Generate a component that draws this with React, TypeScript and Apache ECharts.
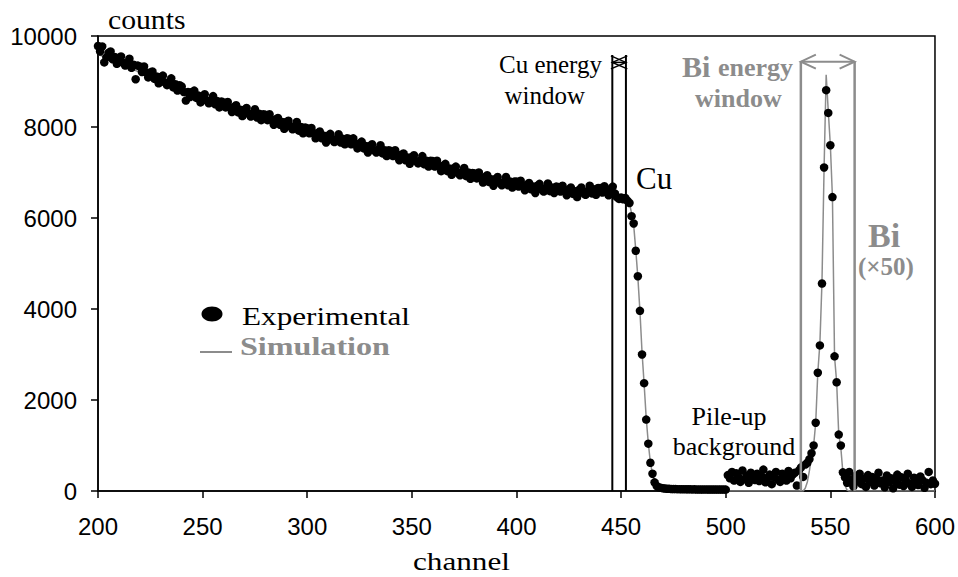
import React, { useEffect, useRef } from 'react';
import * as echarts from 'echarts';

// ---------- data ----------
const channelStart = 200;
const experimental: number[] = [
  9780, 9660, 9770, 9420, 9530, 9630, 9660, 9490, 9540, 9390,
  9520, 9550, 9410, 9350, 9410, 9500, 9300, 9370, 9050, 9350,
  9330, 9210, 9330, 9200, 9090, 9200, 9220, 9060, 9110, 8960,
  9100, 9130, 8980, 8920, 8980, 9070, 8870, 8940, 8800, 8920,
  8890, 8770, 8580, 8770, 8660, 8770, 8800, 8640, 8690, 8540,
  8680, 8720, 8580, 8520, 8590, 8680, 8500, 8570, 8430, 8560,
  8540, 8430, 8550, 8430, 8330, 8440, 8480, 8320, 8380, 8240,
  8380, 8420, 8290, 8230, 8300, 8390, 8210, 8290, 8150, 8280,
  8270, 8150, 8280, 8150, 8050, 8170, 8200, 8050, 8110, 7960,
  8110, 8140, 8010, 7950, 8020, 8110, 7920, 8000, 7860, 7990,
  7970, 7860, 7980, 7860, 7750, 7870, 7900, 7750, 7810, 7660,
  7810, 7850, 7720, 7670, 7740, 7840, 7660, 7740, 7620, 7750,
  7740, 7620, 7750, 7630, 7530, 7640, 7680, 7530, 7580, 7440,
  7590, 7620, 7490, 7440, 7500, 7600, 7420, 7490, 7360, 7490,
  7470, 7360, 7490, 7370, 7270, 7390, 7420, 7270, 7330, 7190,
  7340, 7380, 7250, 7200, 7260, 7360, 7180, 7260, 7130, 7260,
  7250, 7130, 7260, 7140, 7030, 7150, 7190, 7030, 7090, 6950,
  7090, 7130, 6990, 6940, 7010, 7100, 6920, 7000, 6860, 6990,
  6980, 6870, 7000, 6880, 6780, 6900, 6940, 6790, 6850, 6710,
  6860, 6900, 6770, 6720, 6790, 6900, 6720, 6800, 6670, 6800,
  6800, 6690, 6820, 6700, 6610, 6730, 6770, 6630, 6690, 6550,
  6710, 6750, 6630, 6580, 6660, 6760, 6590, 6670, 6550, 6690,
  6680, 6580, 6710, 6600, 6500, 6630, 6670, 6530, 6590, 6460,
  6620, 6670, 6550, 6510, 6590, 6710, 6540, 6630, 6510, 6660,
  6660, 6560, 6700, 6590, 6500, 6640, 6690, 6540,
  6460, 6420, 6450, 6410, 6440,
  6380, 6330, 6040, 5880, 5280, 4720, 3960, 3000, 2370, 1570, 1040, 620, 380, 190, 110, 80,
  70, 60, 55, 50, 48, 45, 45, 42, 40, 40, 38, 40, 37, 36, 38, 35,
  36, 34, 35, 33, 34, 35, 33, 32, 34, 33, 32, 33, 31, 32, 33, 31,
  350, 280, 420, 230, 390, 310, 200, 450, 260, 340, 180, 400, 300, 240, 380, 220, 330, 470, 190, 290,
  360, 150, 310, 420, 250, 200, 380, 330, 230, 440, 280, 360, 400, 120, 450, 520, 310, 580, 620,
  700, 830, 1000, 1500, 2600, 3200, 4560, 7110, 8810, 8310, 7600, 6460, 2960, 2390, 1240, 1000, 410,
  300, 180, 420, 250, 100, 330, 210, 380, 150, 270, 90, 350, 200, 310, 120, 260, 400, 170, 230, 80,
  340, 190, 280, 60, 220, 360, 140, 300, 110, 250, 380, 160, 90, 290, 200, 130, 320, 240, 70, 180,
  420, 150, 230, 160,
];

const simChannels = [
  200, 210, 220, 230, 240, 250, 260, 270, 280, 290, 300, 310, 320, 330, 340, 350, 360, 370, 380, 390,
  400, 410, 420, 430, 440, 448, 453, 454, 455, 456, 457, 458, 459, 460, 461, 462, 463, 464, 465, 466,
  467, 468, 470, 537, 538, 539, 540, 541, 542, 543, 544, 545, 546, 547, 548, 549, 550, 551, 552, 553,
  554, 555, 556, 557, 558, 559, 600,
];
const simCounts = [
  9600, 9400, 9200, 9000, 8810, 8640, 8480, 8340, 8200, 8070, 7920, 7780, 7670, 7540, 7410, 7300, 7180, 7050, 6920, 6820,
  6740, 6670, 6620, 6580, 6590, 6500, 6400, 6330, 6100, 5850, 5300, 4700, 3950, 3050, 2350, 1600, 1050, 620, 370, 180,
  80, 30, 0, 0, 60, 200, 450, 750, 1000, 1500, 2600, 3250, 4600, 7100, 9150, 8350, 7600, 6450, 2950, 2400,
  1250, 950, 400, 120, 20, 0, 0,
];

const cuWindow = [445.8, 452.3];
const cuWindowTop = 9580;
const cuArrowLevel = 9420;
const biWindow = [535.9, 561.6];
const biWindowTop = 9435;

const xMin = 200, xMax = 600, xStep = 50;
const yMin = 0, yMax = 10000, yStep = 2000;

const SERIF = "'Liberation Serif', 'Times New Roman', Times, serif";
const SANS = "'Liberation Sans', Arial, Helvetica, sans-serif";
const GRAY = '#8c8c8c';

export default function App() {
  const ref = useRef<HTMLDivElement>(null);
  useEffect(() => {
    const el = ref.current!;
    const chart = echarts.init(el, null, { renderer: 'svg' });
    const expData = experimental.map((v, i) => [channelStart + i, v]);
    const simData = simChannels.map((c, i) => [c, simCounts[i]]);
    chart.setOption({
      animation: false,
      grid: { left: 98, right: 23, top: 36, bottom: 86, show: true, borderColor: '#000', borderWidth: 1.5 },
      xAxis: {
        type: 'value', min: xMin, max: xMax, interval: xStep,
        axisLine: { show: true, onZero: false, lineStyle: { color: '#000', width: 1.5 } },
        axisTick: { show: true, length: 7, inside: false, lineStyle: { color: '#000', width: 1.5 } },
        axisLabel: { color: '#000', fontFamily: SANS, fontSize: 24, margin: 23, formatter: (v: number) => String(v) },
        splitLine: { show: false },
      },
      yAxis: {
        type: 'value', min: yMin, max: yMax, interval: yStep,
        axisLine: { show: true, lineStyle: { color: '#000', width: 1.5 } },
        axisTick: { show: true, length: 7, inside: false, lineStyle: { color: '#000', width: 1.5 } },
        axisLabel: { color: '#000', fontFamily: SANS, fontSize: 24, margin: 21, formatter: (v: number) => String(v) },
        splitLine: { show: false },
      },
      series: [
        {
          name: 'Simulation', type: 'line', data: simData, showSymbol: false, symbol: 'none',
          lineStyle: { color: GRAY, width: 1.5 }, z: 2, clip: true,
        },
        {
          name: 'Experimental', type: 'scatter', data: expData, symbol: 'circle', symbolSize: 8.5,
          itemStyle: { color: '#000', opacity: 1 }, z: 3,
        },
      ],
    });

    const p = (x: number, y: number) => chart.convertToPixel({ gridIndex: 0 }, [x, y]) as number[];
    const g: any[] = [];
    const y0 = p(xMin, 0)[1];
    // Cu window
    cuWindow.forEach((c) => {
      const top = p(c, cuWindowTop);
      g.push({ type: 'line', shape: { x1: top[0], y1: y0, x2: top[0], y2: top[1] }, style: { stroke: '#000', lineWidth: 2 }, z: 10 });
    });
    {
      const a = p(cuWindow[0], cuArrowLevel);
      const b = p(cuWindow[1], cuArrowLevel);
      g.push({ type: 'line', shape: { x1: a[0], y1: a[1], x2: b[0], y2: b[1] }, style: { stroke: '#000', lineWidth: 1.5 }, z: 10 });
      g.push({ type: 'polyline', shape: { points: [[a[0] + 15, a[1] - 6.5], [a[0], a[1]], [a[0] + 15, a[1] + 6.5]] }, style: { stroke: '#000', lineWidth: 1.5, fill: null }, z: 10 });
      g.push({ type: 'polyline', shape: { points: [[b[0] - 15, b[1] - 6.5], [b[0], b[1]], [b[0] - 15, b[1] + 6.5]] }, style: { stroke: '#000', lineWidth: 1.5, fill: null }, z: 10 });
    }
    // Bi window
    biWindow.forEach((c) => {
      const top = p(c, biWindowTop);
      g.push({ type: 'line', shape: { x1: top[0], y1: y0, x2: top[0], y2: top[1] }, style: { stroke: GRAY, lineWidth: 2.5 }, z: 10 });
    });
    {
      const a = p(biWindow[0], biWindowTop);
      const b = p(biWindow[1], biWindowTop);
      g.push({ type: 'line', shape: { x1: a[0], y1: a[1], x2: b[0], y2: b[1] }, style: { stroke: GRAY, lineWidth: 2 }, z: 10 });
      g.push({ type: 'polyline', shape: { points: [[a[0] + 15, a[1] - 7], [a[0], a[1]], [a[0] + 15, a[1] + 7]] }, style: { stroke: GRAY, lineWidth: 2, fill: null }, z: 10 });
      g.push({ type: 'polyline', shape: { points: [[b[0] - 15, b[1] - 7], [b[0], b[1]], [b[0] - 15, b[1] + 7]] }, style: { stroke: GRAY, lineWidth: 2, fill: null }, z: 10 });
    }

    const txt = (text: string, x: number, y: number, size: number, opts: any = {}) => ({
      type: 'text', x, y, z: 20, scaleX: opts.scaleX || 1,
      style: {
        text, fontFamily: SERIF, fontSize: size, fontWeight: opts.bold ? 'bold' : 'normal',
        fill: opts.color || '#000', align: opts.align || 'left', textAlign: opts.align || 'left',
        verticalAlign: 'middle', textVerticalAlign: 'middle',
      },
    });
    g.push(txt('counts', 108, 19.5, 27, { scaleX: 1.1 }));
    g.push(txt('channel', 413, 560.5, 26, { scaleX: 1.2 }));
    g.push(txt('Cu energy', 602, 64.5, 25, { align: 'right' }));
    g.push(txt('window', 585, 95.5, 25, { align: 'right' }));
    g.push(txt('Cu', 636, 178.5, 31));
    g.push(txt('Bi', 682, 66, 30, { bold: true, color: GRAY }));
    g.push(txt('energy', 718, 67, 26, { bold: true, color: GRAY }));
    g.push(txt('window', 695, 98, 26, { bold: true, color: GRAY }));
    g.push(txt('Bi', 868, 235.5, 34, { bold: true, color: GRAY }));
    g.push(txt('(×50)', 886, 266.5, 25, { bold: true, color: GRAY, align: 'center' }));
    g.push(txt('Pile-up', 729, 416, 26, { align: 'center' }));
    g.push(txt('background', 734, 446, 26, { align: 'center' }));
    // legend
    g.push({ type: 'ellipse', shape: { cx: 212, cy: 314, rx: 10.5, ry: 7.5 }, style: { fill: '#000' }, z: 20 });
    g.push({ type: 'line', shape: { x1: 200, y1: 352, x2: 232, y2: 352 }, style: { stroke: GRAY, lineWidth: 2 }, z: 20 });
    g.push(txt('Experimental', 242, 316, 26, { scaleX: 1.2 }));
    g.push(txt('Simulation', 240, 346.5, 25.5, { scaleX: 1.26, bold: true, color: GRAY }));

    chart.setOption({ graphic: g });
    return () => chart.dispose();
  }, []);
  return <div ref={ref} style={{ position: 'absolute', left: 0, top: 0, width: 958, height: 577, background: '#fff' }} />;
}
